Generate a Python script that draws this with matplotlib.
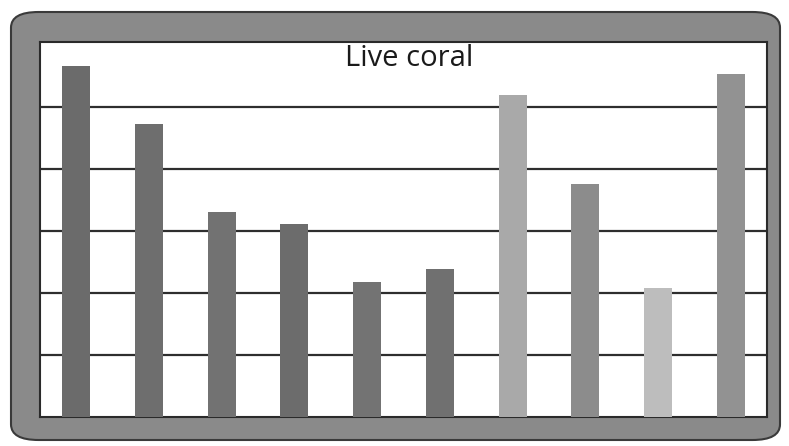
import matplotlib
matplotlib.use('Agg')
import matplotlib.pyplot as plt
from matplotlib.patches import FancyBboxPatch

# bar values (gridline units)
categories = ['1', '2', '3', '4', '5', '6', '7', '8', '9', '10']
values = [5.66, 4.73, 3.31, 3.11, 2.18, 2.39, 5.19, 3.76, 2.08, 5.53]
bar_colors = ['#6b6b6b', '#6e6e6e', '#727272', '#6c6c6c', '#737373',
              '#707070', '#a9a9a9', '#8c8c8c', '#bdbdbd', '#929292']

fig = plt.figure(figsize=(7.89, 4.46), dpi=100)
fig.patch.set_facecolor('white')

# grey rounded frame around the chart
W, H = 789, 446
frame = FancyBboxPatch((11 / W, 6 / H), 769 / W, 428 / H,
                       boxstyle='round,pad=0,rounding_size=0.035',
                       transform=fig.transFigure, facecolor='#8a8a8a',
                       edgecolor='#3a3a3a', linewidth=1.5, zorder=0)
fig.patches.append(frame)

ax = fig.add_axes([40 / W, 29 / H, 727 / W, 375 / H])
ax.set_facecolor('white')
ax.set_zorder(2)

x = range(len(categories))
ax.bar(x, values, width=0.385, color=bar_colors, zorder=3)

ax.set_xlim(-0.5, len(categories) - 0.5)
ax.set_ylim(0, 6.05)
ax.set_yticks([1, 2, 3, 4, 5])
ax.yaxis.grid(True, color='#2e2e2e', linewidth=1.6, zorder=1)
ax.set_axisbelow(True)
ax.tick_params(left=False, bottom=False, labelleft=False, labelbottom=False)
for s in ax.spines.values():
    s.set_color('#2a2a2a')
    s.set_linewidth(1.5)

ax.text(0.508, 0.955, 'Live coral', transform=ax.transAxes, fontsize=21,
        family='Open Sans', color='#1a1a1a', ha='center', va='center',
        zorder=4)

fig.savefig('out.png', dpi=100, facecolor='white')
